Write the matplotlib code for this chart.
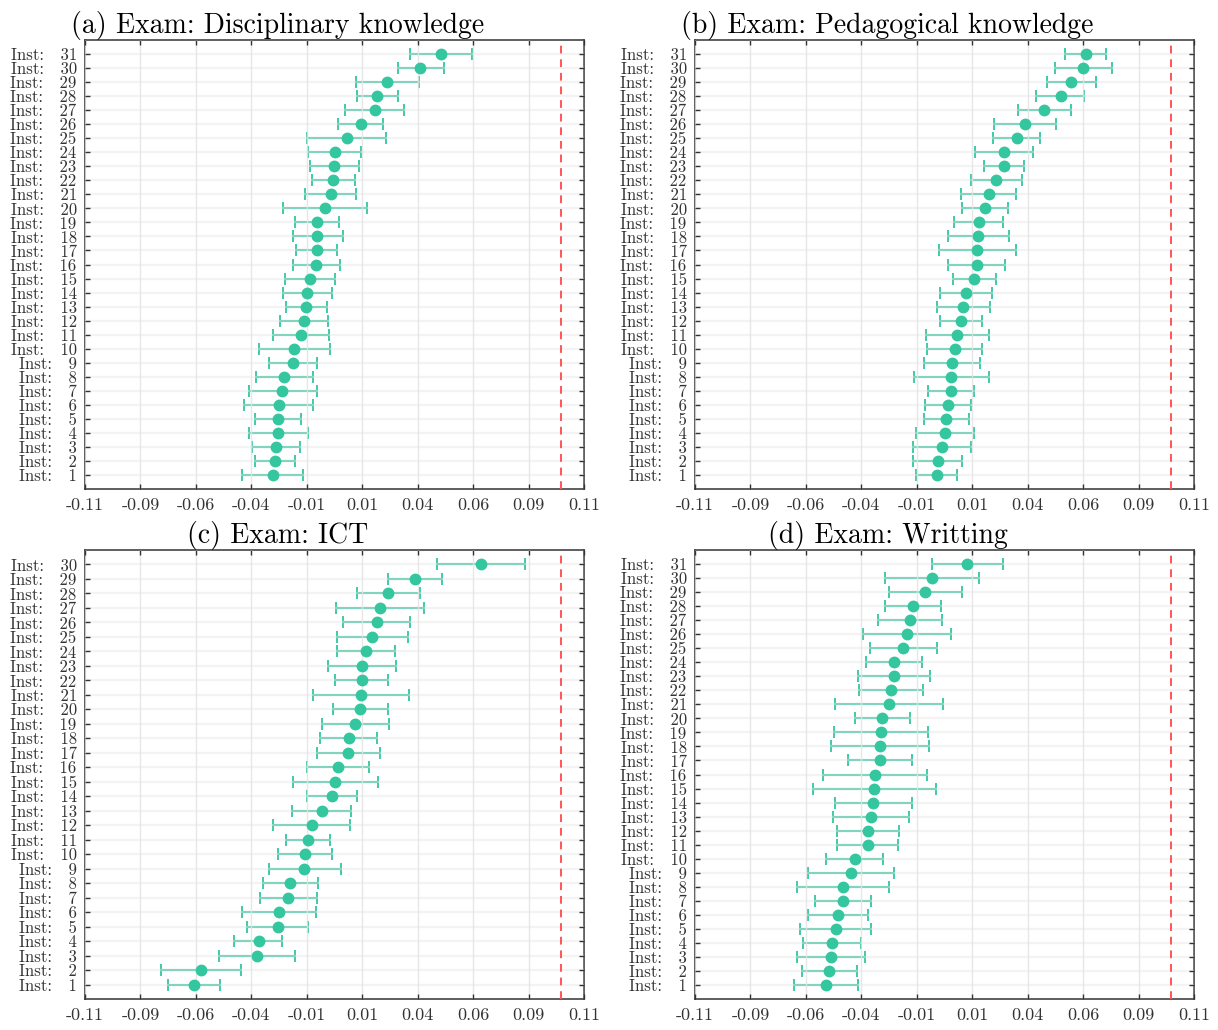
import numpy as np
import matplotlib
matplotlib.use('Agg')
import matplotlib.pyplot as plt

plt.rcParams['font.family'] = ['cmr10', 'DejaVu Serif']
plt.rcParams['axes.unicode_minus'] = False
plt.rcParams['mathtext.fontset'] = 'cm'

# point estimates and interval bounds, Inst 1 .. N
disc_est = [-0.0273, -0.0261, -0.0258, -0.0249, -0.0248, -0.0246, -0.0231, -0.0221, -0.0184, -0.0179,
            -0.0146, -0.0135, -0.0125, -0.0123, -0.0106, -0.0081, -0.0079, -0.0076, -0.0076, -0.0042,
            -0.0017, -0.0007, -0.0002, 0.0000, 0.0054, 0.0115, 0.0177, 0.0187, 0.0231, 0.0379, 0.0468]
disc_lo = [-0.0408, -0.0349, -0.0362, -0.0379, -0.0349, -0.0401, -0.0379, -0.0344, -0.0288, -0.0333,
           -0.0269, -0.0239, -0.0212, -0.0229, -0.0217, -0.0184, -0.0168, -0.0185, -0.0172, -0.0226,
           -0.0131, -0.0101, -0.0109, -0.0116, -0.0121, 0.0015, 0.0047, 0.0099, 0.0096, 0.0278, 0.0334]
disc_hi = [-0.0138, -0.0172, -0.0152, -0.0118, -0.0146, -0.0093, -0.0079, -0.0094, -0.0077, -0.0020,
           -0.0025, -0.0030, -0.0035, -0.0013, 0.0003, 0.0024, 0.0010, 0.0037, 0.0022, 0.0143,
           0.0096, 0.0089, 0.0110, 0.0118, 0.0229, 0.0216, 0.0308, 0.0278, 0.0371, 0.0482, 0.0607]

ped_est = [-0.0035, -0.0030, -0.0012, 0.0002, 0.0007, 0.0015, 0.0030, 0.0030, 0.0035, 0.0046,
           0.0057, 0.0071, 0.0083, 0.0096, 0.0131, 0.0142, 0.0145, 0.0148, 0.0150, 0.0179,
           0.0195, 0.0229, 0.0261, 0.0263, 0.0318, 0.0356, 0.0440, 0.0512, 0.0559, 0.0610, 0.0622]
ped_lo = [-0.0125, -0.0138, -0.0141, -0.0126, -0.0091, -0.0086, -0.0071, -0.0135, -0.0089, -0.0076,
          -0.0081, -0.0022, -0.0035, -0.0018, 0.0039, 0.0015, -0.0024, 0.0014, 0.0044, 0.0078,
          0.0071, 0.0115, 0.0172, 0.0135, 0.0214, 0.0217, 0.0325, 0.0404, 0.0452, 0.0485, 0.0532]
ped_hi = [0.0057, 0.0079, 0.0115, 0.0128, 0.0106, 0.0116, 0.0130, 0.0197, 0.0157, 0.0167,
          0.0194, 0.0165, 0.0199, 0.0211, 0.0226, 0.0268, 0.0317, 0.0286, 0.0260, 0.0280,
          0.0317, 0.0342, 0.0349, 0.0391, 0.0423, 0.0492, 0.0558, 0.0617, 0.0667, 0.0738, 0.0713]

ict_est = [-0.0618, -0.0590, -0.0342, -0.0335, -0.0249, -0.0246, -0.0204, -0.0195, -0.0133, -0.0131,
           -0.0118, -0.0101, -0.0057, -0.0012, 0.0002, 0.0014, 0.0061, 0.0062, 0.0091, 0.0113,
           0.0115, 0.0120, 0.0123, 0.0138, 0.0167, 0.0187, 0.0202, 0.0238, 0.0354, 0.0647]
ict_lo = [-0.0733, -0.0765, -0.0509, -0.0441, -0.0384, -0.0409, -0.0327, -0.0317, -0.0290, -0.0248,
          -0.0214, -0.0271, -0.0187, -0.0121, -0.0185, -0.0121, -0.0077, -0.0064, -0.0056, -0.0005,
          -0.0096, 0.0000, -0.0029, 0.0010, 0.0012, 0.0039, 0.0008, 0.0101, 0.0236, 0.0453]
ict_hi = [-0.0504, -0.0413, -0.0175, -0.0231, -0.0116, -0.0082, -0.0079, -0.0072, 0.0027, -0.0013,
          -0.0022, 0.0067, 0.0071, 0.0098, 0.0190, 0.0150, 0.0201, 0.0187, 0.0239, 0.0234,
          0.0329, 0.0238, 0.0273, 0.0265, 0.0324, 0.0334, 0.0396, 0.0376, 0.0475, 0.0841]

wri_est = [-0.0524, -0.0509, -0.0500, -0.0497, -0.0478, -0.0468, -0.0448, -0.0446, -0.0413, -0.0396,
           -0.0339, -0.0339, -0.0323, -0.0317, -0.0310, -0.0307, -0.0286, -0.0285, -0.0281, -0.0275,
           -0.0244, -0.0237, -0.0224, -0.0224, -0.0184, -0.0167, -0.0153, -0.0140, -0.0084, -0.0054, 0.0101]
wri_lo = [-0.0664, -0.0630, -0.0649, -0.0625, -0.0635, -0.0601, -0.0571, -0.0649, -0.0601, -0.0524,
          -0.0472, -0.0475, -0.0492, -0.0483, -0.0581, -0.0534, -0.0424, -0.0499, -0.0487, -0.0396,
          -0.0482, -0.0379, -0.0381, -0.0347, -0.0330, -0.0359, -0.0291, -0.0263, -0.0243, -0.0261, -0.0056]
wri_hi = [-0.0382, -0.0386, -0.0352, -0.0367, -0.0322, -0.0337, -0.0323, -0.0244, -0.0222, -0.0269,
          -0.0207, -0.0200, -0.0155, -0.0145, -0.0037, -0.0077, -0.0145, -0.0067, -0.0074, -0.0153,
          -0.0005, -0.0093, -0.0066, -0.0098, -0.0032, 0.0027, -0.0013, -0.0015, 0.0076, 0.0153, 0.0260]

titles = ['(a) Exam: Disciplinary knowledge', '(b) Exam: Pedagogical knowledge',
          '(c) Exam: ICT', '(d) Exam: Writting']
xtick_labels = ['-0.11', '-0.09', '-0.06', '-0.04', '-0.01', '0.01', '0.04', '0.06', '0.09', '0.11']
ref_line = 0.1

COLOR = '#33c69f'
W, H = 1218, 1030


def px_rect(l, t, r, b):
    return [l / W, 1 - b / H, (r - l) / W, (b - t) / H]


def forest(ax, title, est, lo, hi):
    est = np.array(est)
    n = len(est)
    y = np.arange(1, n + 1)
    err = np.vstack([est - np.array(lo), np.array(hi) - est])

    ax.errorbar(est, y, xerr=err, fmt='none', ecolor=COLOR, elinewidth=1.5,
                capsize=4, capthick=1.3, zorder=2)
    ax.plot(est, y, 'o', color=COLOR, markersize=7.5, zorder=4)
    ax.axvline(ref_line, color='#ff5555', linestyle=(0, (4, 3)), linewidth=1.4, zorder=3)

    ax.set_xlim(-0.11, 0.11)
    ax.set_ylim(0, n + 1)
    ax.set_xticks(np.linspace(-0.11, 0.11, 10))
    ax.set_xticklabels(xtick_labels, fontsize=13)
    ax.set_yticks(y)
    ax.set_yticklabels(['Inst:   %d' % i for i in y], fontsize=12)

    ax.set_axisbelow(False)
    ax.grid(axis='x', color='#e2e2e2', linewidth=1.0, alpha=0.8)
    ax.grid(axis='y', color='#e6e6e6', linewidth=1.6, alpha=0.45)
    ax.tick_params(direction='in', top=True, right=True, length=3.5, width=1.0,
                   color='#333333', labelcolor='#333333')
    ax.tick_params(axis='x', pad=6)
    ax.tick_params(axis='y', pad=6)
    for s in ax.spines.values():
        s.set_color('#333333')
        s.set_linewidth(1.1)
    ax.set_title(title, fontsize=20, x=0.386, pad=5)


fig = plt.figure(figsize=(W / 100, H / 100), dpi=100)
rects = [px_rect(85, 40, 584, 489), px_rect(695, 40, 1194, 489),
         px_rect(85, 550, 584, 999), px_rect(695, 550, 1194, 999)]
panels = [(disc_est, disc_lo, disc_hi), (ped_est, ped_lo, ped_hi),
          (ict_est, ict_lo, ict_hi), (wri_est, wri_lo, wri_hi)]

for rect, title, (e, l, h) in zip(rects, titles, panels):
    ax = fig.add_axes(rect)
    forest(ax, title, e, l, h)

fig.savefig('out.png', dpi=100)
